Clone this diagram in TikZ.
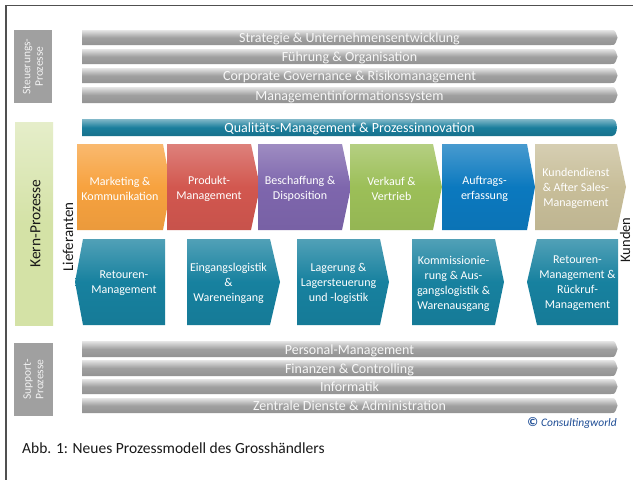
\documentclass[tikz,border=0pt]{standalone}
\usepackage{fontspec}
\setmainfont{Carlito}
\definecolor{cOrange}{HTML}{F7A23F}
\definecolor{cRed}{HTML}{D2574F}
\definecolor{cPurple}{HTML}{7E66AD}
\definecolor{cGreen}{HTML}{9CBF58}
\definecolor{cBlue}{HTML}{0B79BF}
\definecolor{cTan}{HTML}{C8BE99}
\definecolor{cTeal}{HTML}{17819F}
\definecolor{cQual}{HTML}{1A7E9C}
\definecolor{cGray}{HTML}{A0A0A0}
\definecolor{cKern}{HTML}{D4E2A6}
\definecolor{cCopy}{HTML}{1F4E96}
\definecolor{cFrame}{HTML}{505050}
\tikzset{
  ptext/.style={text=white, align=center, inner sep=0pt, font=\fontsize{12}{15}\selectfont},
  btext/.style={text=white!94!gray, inner sep=0pt, anchor=base, font=\fontsize{14}{16}\selectfont},
  sidebox/.style={fill=cGray, text=white!90!gray, align=center, inner sep=0pt, rotate=90, font=\fontsize{11.5}{12.5}\selectfont},
  sidelabel/.style={rotate=90, anchor=base, inner sep=0pt, text=black!90, font=\fontsize{15}{18}\selectfont}
}
% right-pointing arrow block
\newcommand\chevR[8]{%
  \shade[top color=#7!75!white, bottom color=#7!95!black, middle color=#7] (#2,#5) -- (#3,#5) -- (#4,{(#5+#6)/2}) -- (#3,#6) -- (#2,#6) -- cycle;
  \node[ptext] (#1) at ({(#2+#3)/2},{(#5+#6)/2+1.5}) {#8};}
% left-pointing arrow block
\newcommand\chevL[8]{%
  \shade[top color=#7!75!white, bottom color=#7!95!black, middle color=#7] (#4,{(#5+#6)/2}) -- (#2,#5) -- (#3,#5) -- (#3,#6) -- (#2,#6) -- cycle;
  \node[ptext] (#1) at ({(#2+#3)/2},{(#5+#6)/2+1.5}) {#8};}
% grey bar
\newcommand\gbar[4]{%
  \shade[top color=white!80!gray, bottom color=cGray!92!black, middle color=cGray] (82,#2) -- (611,#2) .. controls (615,#2) .. (617.5,{(#2+#3)/2}) .. controls (615,#3) .. (611,#3) -- (82,#3) -- cycle;
  \node[btext] (#1) at (349.5,{(#2+#3)/2+5}) {#4};}
\begin{document}
\begin{tikzpicture}[x=1pt,y=-1pt]
\useasboundingbox (0,0) rectangle (633,480);
\fill[white] (0,0) rectangle (633,480);
% frame
\draw[cFrame, line width=1.6pt] (6,480) -- (6,5.5) -- (633,5.5);

% Steuerungs-Prozesse
\node[sidebox, minimum width=73pt, minimum height=38pt] (steu) at (33,66.5) {Steuerungs-\\Prozesse};
\gbar{b1}{30}{45}{Strategie \& Unternehmensentwicklung}
\gbar{b2}{49}{64}{Führung \& Organisation}
\gbar{b3}{68}{83}{Corporate Governance \& Risikomanagement}
\gbar{b4}{87}{103}{Managementinformationssystem}

% Kern-Prozesse
\shade[top color=cKern!60!white, bottom color=cKern, middle color=cKern] (15,122) rectangle (53,325);
\node[sidelabel, font=\fontsize{15.5}{18}\selectfont] (kern) at (40.5,223.5) {Kern-Prozesse};
\node[sidelabel] (lief) at (73,237) {Lieferanten};
\node[sidelabel, font=\fontsize{14.5}{18}\selectfont] (kund) at (630,240) {Kunden};

% Qualitaet bar
\shade[top color=cQual!55!white, bottom color=cQual!90!black, middle color=cQual] (82,119) -- (612,119) .. controls (618.5,119) and (618.5,136) .. (612,136) -- (82,136) -- cycle;
\node[btext, text=white] (qual) at (349.5,132.5) {Qualitäts-Management \& Prozessinnovation};

% top chevrons
\chevR{mk}{77}{163}{171}{144}{230}{cOrange}{Marketing \&\\Kommunikation}
\chevR{pm}{167}{251}{260}{144}{230}{cRed}{Produkt-\\Management}
\chevR{bd}{258}{342}{351}{144}{230}{cPurple}{Beschaffung \&\\Disposition}
\chevR{vv}{350}{433}{442}{144}{230}{cGreen}{Verkauf \&\\Vertrieb}
\chevR{ae}{442}{527}{535}{144}{230}{cBlue}{Auftrags-\\erfassung}
\chevR{kd}{535}{617}{626}{144}{230}{cTan}{Kundendienst\\\& After Sales-\\Management}

% lower chevrons
\chevL{rm}{83}{165}{75}{239}{325}{cTeal}{Retouren-\\Management}
\chevR{el}{187}{270}{280}{239}{325}{cTeal}{Eingangslogistik\\\&\\Wareneingang}
\chevR{ll}{297}{380}{389}{239}{325}{cTeal}{Lagerung \&\\Lagersteuerung\\und -logistik}
\chevR{kw}{412}{495}{504}{239}{325}{cTeal}{Kommissionie-\\rung \& Aus-\\gangslogistik \&\\Warenausgang}
\chevL{rr}{537}{618}{527}{239}{325}{cTeal}{Retouren-\\Management \&\\Rückruf-\\Management}

% Support-Prozesse
\node[sidebox, minimum width=73pt, minimum height=39pt] (supp) at (33.5,379.5) {Support-\\Prozesse};
\gbar{s1}{341}{357}{Personal-Management}
\gbar{s2}{360}{376}{Finanzen \& Controlling}
\gbar{s3}{379}{394}{Informatik}
\gbar{s4}{398}{413}{Zentrale Dienste \& Administration}

% copyright and caption
\node[anchor=base east, inner sep=0pt, text=cCopy, font=\fontsize{11.5}{13}\selectfont] (copy) at (617,426) {{\bfseries\fontsize{13}{13}\selectfont ©}\hspace{3pt}\textit{Consultingworld}};
\node[anchor=base west, inner sep=0pt, text=black!90, font=\fontsize{15.5}{18}\selectfont] (cap) at (22,453) {Abb. 1: Neues Prozessmodell des Grosshändlers};
\end{tikzpicture}
\end{document}
